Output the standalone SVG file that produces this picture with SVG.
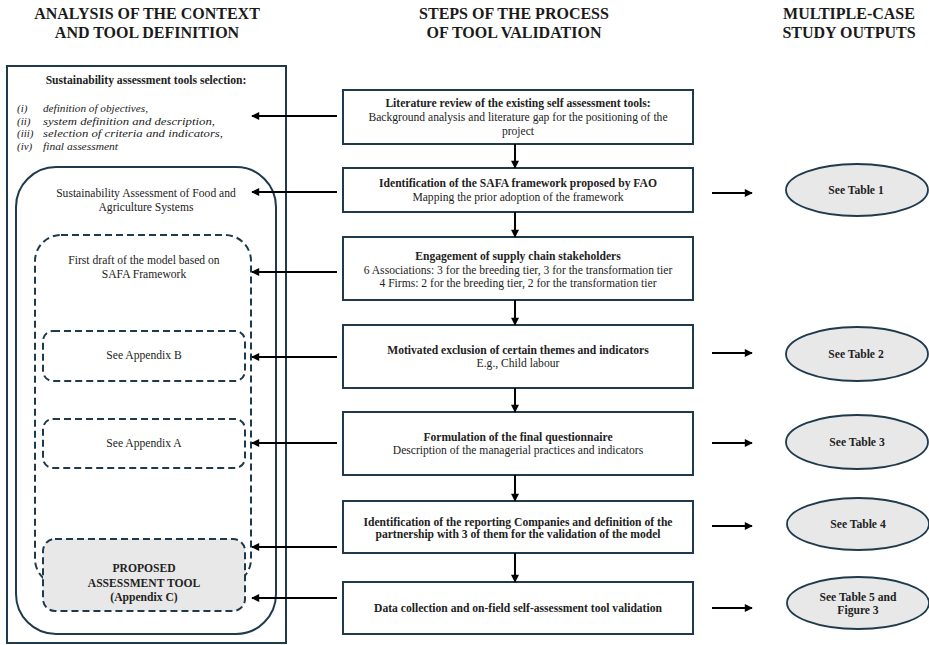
<svg xmlns="http://www.w3.org/2000/svg" width="929" height="645" viewBox="0 0 929 645">
<style>
.bg{fill:#ffffff}
.hdr{font-family:"Liberation Serif","Times New Roman",serif;font-weight:bold;font-size:16px;fill:#1a1a1a;text-anchor:middle}
.t{font-family:"Liberation Serif","Times New Roman",serif;font-size:11.6px;fill:#222;text-anchor:middle}
.b{font-weight:bold}
.it{font-family:"Liberation Serif","Times New Roman",serif;font-size:11px;font-style:italic;fill:#222}
.box{fill:#fff;stroke:#1f3a4d;stroke-width:2}
.dash{fill:none;stroke:#1f3a4d;stroke-width:2;stroke-dasharray:7 4}
.grey{fill:#e8e8e8;stroke:#1f3a4d;stroke-width:2;stroke-dasharray:7 4}
.ell{fill:#e8e8e8;stroke:#1f3a4d;stroke-width:1.8}
.arr{stroke:#000;stroke-width:2;fill:none;marker-end:url(#ah)}
</style>
<defs>
<marker id="ah" viewBox="0 0 10 10" refX="9" refY="5" markerWidth="10" markerHeight="8" markerUnits="userSpaceOnUse" orient="auto">
<path d="M0,0 L10,5 L0,10 z" fill="#000"/>
</marker>
</defs>
<rect class="bg" x="0" y="0" width="929" height="645"/>

<g id="headers">
<text class="hdr" x="147" y="19">ANALYSIS OF THE CONTEXT</text>
<text class="hdr" x="147" y="38">AND TOOL DEFINITION</text>
<text class="hdr" x="514" y="19">STEPS OF THE PROCESS</text>
<text class="hdr" x="514" y="38">OF TOOL VALIDATION</text>
<text class="hdr" x="849" y="19">MULTIPLE-CASE</text>
<text class="hdr" x="849" y="38">STUDY OUTPUTS</text>
</g>

<g id="left-outer">
<rect class="box" x="7" y="66" width="279" height="577"/>
<text class="t b" x="146" y="84">Sustainability assessment tools selection:</text>
<text class="it" x="17" y="112">(i)</text><text class="it" x="43" y="112" textLength="105" lengthAdjust="spacingAndGlyphs">definition of objectives,</text>
<text class="it" x="17" y="124.5">(ii)</text><text class="it" x="43" y="124.5" textLength="172" lengthAdjust="spacingAndGlyphs">system definition and description,</text>
<text class="it" x="17" y="137">(iii)</text><text class="it" x="43" y="137" textLength="180" lengthAdjust="spacingAndGlyphs">selection of criteria and indicators,</text>
<text class="it" x="17" y="150">(iv)</text><text class="it" x="43" y="150" textLength="75" lengthAdjust="spacingAndGlyphs">final assessment</text>
</g>

<g id="left-safa">
<rect class="box" x="16" y="167" width="260" height="467" rx="40" ry="40"/>
<text class="t" x="146" y="197">Sustainability Assessment of Food and</text>
<text class="t" x="146" y="211">Agriculture Systems</text>
</g>

<g id="left-draft">
<rect class="dash" x="35" y="235" width="216" height="350" rx="26" ry="26"/>
<text class="t" x="144" y="264">First draft of the model based on</text>
<text class="t" x="144" y="278">SAFA Framework</text>
</g>

<g id="left-appB">
<rect class="dash" x="43" y="331" width="202" height="50" rx="10" ry="10"/>
<text class="t" x="144" y="359">See Appendix B</text>
</g>

<g id="left-appA">
<rect class="dash" x="43" y="419" width="202" height="49" rx="10" ry="10"/>
<text class="t" x="144" y="447">See Appendix A</text>
</g>

<g id="left-proposed">
<rect class="grey" x="43" y="539" width="202" height="72" rx="12" ry="12"/>
<text class="t b" x="144" y="572">PROPOSED</text>
<text class="t b" x="144" y="587">ASSESSMENT TOOL</text>
<text class="t b" x="144" y="601">(Appendix C)</text>
</g>

<g id="step1">
<rect class="box" x="343" y="90" width="350" height="54"/>
<text class="t b" x="518" y="107">Literature review of the existing self assessment tools:</text>
<text class="t" x="518" y="121">Background analysis and literature gap for the positioning of the</text>
<text class="t" x="518" y="135">project</text>
</g>
<g id="step2">
<rect class="box" x="343" y="168" width="350" height="44"/>
<text class="t b" x="518" y="186.5">Identification of the SAFA framework proposed by FAO</text>
<text class="t" x="518" y="200.5">Mapping the prior adoption of the framework</text>
</g>
<g id="step3">
<rect class="box" x="343" y="237" width="350" height="63"/>
<text class="t b" x="518" y="259.5">Engagement of supply chain stakeholders</text>
<text class="t" x="518" y="273.5">6 Associations: 3 for the breeding tier, 3 for the transformation tier</text>
<text class="t" x="518" y="286.5">4 Firms: 2 for the breeding tier, 2 for the transformation tier</text>
</g>
<g id="step4">
<rect class="box" x="343" y="325" width="350" height="63"/>
<text class="t b" x="518" y="354">Motivated exclusion of certain themes and indicators</text>
<text class="t" x="518" y="366.5">E.g., Child labour</text>
</g>
<g id="step5">
<rect class="box" x="343" y="412" width="350" height="63"/>
<text class="t b" x="518" y="440.5">Formulation of the final questionnaire</text>
<text class="t" x="518" y="453.5">Description of the managerial practices and indicators</text>
</g>
<g id="step6">
<rect class="box" x="343" y="501" width="350" height="52"/>
<text class="t b" x="518" y="525.5">Identification of the reporting Companies and definition of the</text>
<text class="t b" x="518" y="538">partnership with 3 of them for the validation of the model</text>
</g>
<g id="step7">
<rect class="box" x="343" y="582" width="350" height="52"/>
<text class="t b" x="518" y="611.5">Data collection and on-field self-assessment tool validation</text>
</g>

<g id="out1"><ellipse class="ell" cx="857" cy="190" rx="71" ry="26"/><text class="t b" x="856" y="194">See Table 1</text></g>
<g id="out2"><ellipse class="ell" cx="857" cy="354" rx="71" ry="27"/><text class="t b" x="856" y="358">See Table 2</text></g>
<g id="out3"><ellipse class="ell" cx="857" cy="442" rx="71" ry="27"/><text class="t b" x="857" y="446">See Table 3</text></g>
<g id="out4"><ellipse class="ell" cx="858" cy="524" rx="71" ry="26"/><text class="t b" x="858" y="528">See Table 4</text></g>
<g id="out5"><ellipse class="ell" cx="858" cy="603" rx="71" ry="26"/><text class="t b" x="858" y="600.5">See Table 5 and</text><text class="t b" x="858" y="614">Figure 3</text></g>

<g id="connectors">
<line class="arr" x1="515" y1="144" x2="515" y2="168"/>
<line class="arr" x1="515" y1="212" x2="515" y2="237"/>
<line class="arr" x1="515" y1="300" x2="515" y2="325"/>
<line class="arr" x1="515" y1="388" x2="515" y2="412"/>
<line class="arr" x1="515" y1="475" x2="515" y2="501"/>
<line class="arr" x1="515" y1="553" x2="515" y2="582"/>

<line class="arr" x1="337" y1="116" x2="252" y2="116"/>
<line class="arr" x1="337" y1="192" x2="252" y2="192"/>
<line class="arr" x1="337" y1="272" x2="252" y2="272"/>
<line class="arr" x1="337" y1="357" x2="252" y2="357"/>
<line class="arr" x1="337" y1="443" x2="252" y2="443"/>
<line class="arr" x1="337" y1="547" x2="252" y2="547"/>
<line class="arr" x1="337" y1="598" x2="252" y2="598"/>

<line class="arr" x1="712" y1="193" x2="752" y2="193"/>
<line class="arr" x1="712" y1="353" x2="752" y2="353"/>
<line class="arr" x1="712" y1="443" x2="752" y2="443"/>
<line class="arr" x1="712" y1="526" x2="752" y2="526"/>
<line class="arr" x1="712" y1="608" x2="752" y2="608"/>
</g>
</svg>
